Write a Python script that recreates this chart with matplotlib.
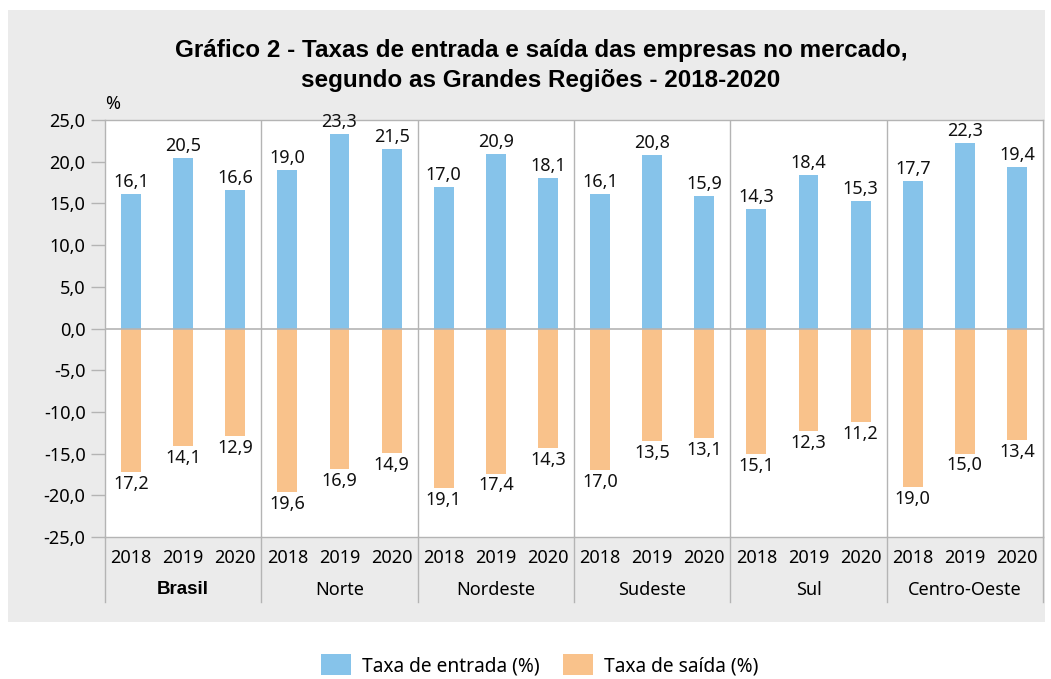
import matplotlib.pyplot as plt
from matplotlib.patches import Patch
from matplotlib.lines import Line2D
import matplotlib.transforms as mtransforms

plt.rcParams['font.family'] = ['Noto Sans', 'DejaVu Sans']

# Data
regioes = ["Brasil", "Norte", "Nordeste", "Sudeste", "Sul", "Centro-Oeste"]
anos = ["2018", "2019", "2020"]
entrada = [16.1, 20.5, 16.6,
           19.0, 23.3, 21.5,
           17.0, 20.9, 18.1,
           16.1, 20.8, 15.9,
           14.3, 18.4, 15.3,
           17.7, 22.3, 19.4]
saida = [17.2, 14.1, 12.9,
         19.6, 16.9, 14.9,
         19.1, 17.4, 14.3,
         17.0, 13.5, 13.1,
         15.1, 12.3, 11.2,
         19.0, 15.0, 13.4]

cor_entrada = '#86C3EA'
cor_saida = '#F9C28B'
cinza = '#EBEBEB'
linha = '#B4B4B4'
fs = 13

fig = plt.figure(figsize=(10.51, 6.79), dpi=100)

# gray panel behind the chart
bg = fig.add_axes([8 / 1051, 1 - 622 / 679, (1045 - 8) / 1051, (622 - 10) / 679], zorder=0)
bg.set_facecolor(cinza)
bg.set_xticks([])
bg.set_yticks([])
for s in bg.spines.values():
    s.set_visible(False)

ax = fig.add_axes([105 / 1051, 1 - 537 / 679, (1043 - 105) / 1051, (537 - 120) / 679], zorder=1)
ax.set_facecolor('white')

x = [i + 0.5 for i in range(len(entrada))]
ax.bar(x, entrada, width=0.38, color=cor_entrada, zorder=2)
ax.bar(x, [-v for v in saida], width=0.38, color=cor_saida, zorder=2)
ax.axhline(0, color=linha, lw=1.2, zorder=3)

fmt = lambda v: f"{v:.1f}".replace('.', ',')
for xi, v in zip(x, entrada):
    ax.annotate(fmt(v), (xi, v), xytext=(0, 2), textcoords='offset points',
                ha='center', va='bottom', fontsize=fs, color='#111111')
for xi, v in zip(x, saida):
    ax.annotate(fmt(v), (xi, -v), xytext=(0, -2), textcoords='offset points',
                ha='center', va='top', fontsize=fs, color='#111111')

ax.set_xlim(0, 18)
ax.set_ylim(-25, 25)
ax.set_yticks(range(-25, 26, 5))
ax.set_yticklabels([fmt(t) for t in range(-25, 26, 5)], fontsize=fs)
ax.tick_params(axis='y', length=10, width=1, color=linha, pad=4)
ax.set_xticks([])
for s in ax.spines.values():
    s.set_color(linha)
    s.set_linewidth(1)

# group separators
trans = mtransforms.blended_transform_factory(ax.transData, ax.transAxes)
for g in range(1, 6):
    ax.axvline(g * 3, color=linha, lw=1, zorder=3)
for g in range(0, 7):
    ax.add_line(Line2D([g * 3, g * 3], [0, -0.156], transform=trans, color=linha,
                       lw=1, clip_on=False))

# category labels
for i, xi in enumerate(x):
    ax.text(xi, -0.05, anos[i % 3], transform=trans, ha='center', va='center', fontsize=fs)
for g, nome in enumerate(regioes):
    if nome == 'Brasil':
        ax.text(g * 3 + 1.5, -0.127, nome, transform=trans, ha='center', va='center',
                fontsize=13.5, fontweight='bold', family='Liberation Sans')
    else:
        ax.text(g * 3 + 1.5, -0.127, nome, transform=trans, ha='center', va='center',
                fontsize=fs)

ax.text(0.0085, 1.038, "%", transform=ax.transAxes, ha='center', va='center', fontsize=fs)

fig.text(541 / 1051, 1 - 65.5 / 679,
         "Gráfico 2 - Taxas de entrada e saída das empresas no mercado,\nsegundo as Grandes Regiões - 2018-2020",
         ha='center', va='center', fontsize=17.5, fontweight='bold', family='Liberation Sans',
         linespacing=1.4)

handles = [Patch(facecolor=cor_entrada, label="Taxa de entrada (%)"),
           Patch(facecolor=cor_saida, label="Taxa de saída (%)")]
fig.legend(handles=handles, loc='center', bbox_to_anchor=(540 / 1051, 1 - 665 / 679), ncol=2,
           frameon=False, fontsize=13.8, handlelength=1.55, handleheight=1.35,
           columnspacing=1.2, handletextpad=0.6)

fig.savefig("out.png", dpi=100)
